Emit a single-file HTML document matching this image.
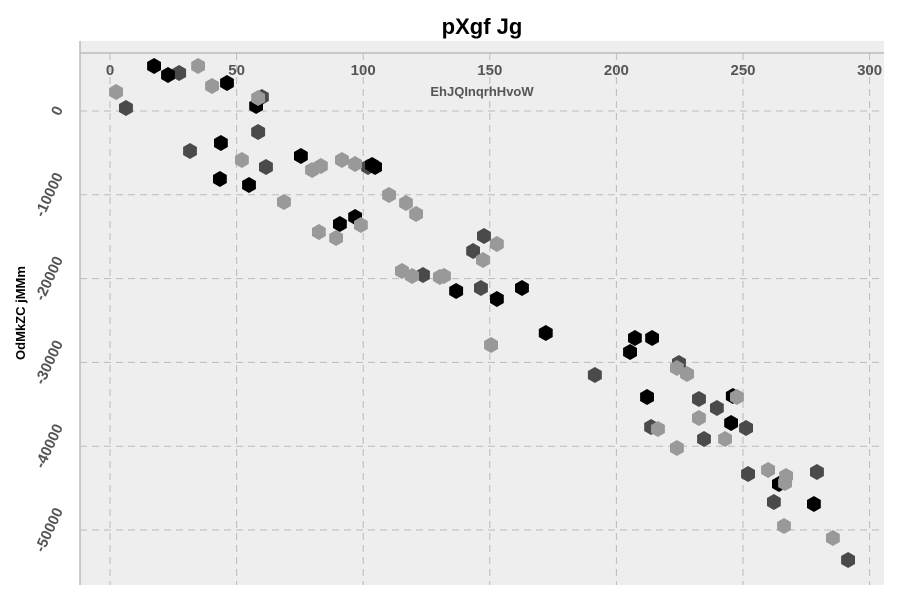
<!DOCTYPE html>
<html><head><meta charset="utf-8"><style>
body{margin:0;background:#fff;}
svg{display:block;font-family:"Liberation Sans",sans-serif;}
</style></head><body>
<svg id="chart" width="900" height="600">
<rect x="80" y="41" width="804" height="544" fill="#eeeeee"/>
<g id="grid"></g>
<line x1="80" y1="53" x2="884" y2="53" stroke="#bbbbbb" stroke-width="1.5"/>
<line x1="80" y1="41" x2="80" y2="585" stroke="#bbbbbb" stroke-width="1.5"/>
<g id="ticks"></g>
<g id="marks"></g>
<text x="482" y="34" text-anchor="middle" font-size="22" font-weight="bold" fill="#000">pXgf Jg</text>
<text x="482" y="96" text-anchor="middle" font-size="13" font-weight="bold" fill="#555">EhJQInqrhHvoW</text>
<text transform="translate(25,313) rotate(-90)" text-anchor="middle" font-size="13" font-weight="bold" fill="#000">OdMkZC jMMm</text>
</svg>
<script>
const xTicks=[0,50,100,150,200,250,300];
const yTicks=[0,-10000,-20000,-30000,-40000,-50000];
const seriesNames=["dark","black","light"];
const seriesColors=["#4a4a4a","#000000","#999999"];
const darkX=[27.3,6.3,60.0,58.5,31.6,61.6,101.9,147.7,143.4,123.6,146.5,191.5,224.7,232.6,239.7,251.2,213.7,234.6,252.0,279.2,262.2,291.5];
const darkY=[4535,358,1671,-2506,-4773,-6682,-6682,-14916,-16706,-19570,-21121,-31503,-30071,-34368,-35441,-37828,-37709,-39141,-43317,-43079,-46659,-53580];
const blackX=[17.4,22.9,46.2,57.7,43.8,43.4,54.9,75.4,103.5,104.7,90.8,96.8,136.7,152.8,162.7,172.1,207.3,214.1,205.4,212.1,246.0,245.3,264.2,278.0];
const blackY=[5370,4296,3341,597,-3819,-8114,-8830,-5370,-6444,-6682,-13484,-12649,-21479,-22434,-21121,-26491,-27088,-27088,-28759,-34129,-34010,-37232,-44511,-46898];
const lightX=[34.8,2.4,40.3,58.5,52.1,79.8,83.3,91.6,96.8,68.7,110.2,99.1,82.5,89.3,116.9,120.9,152.8,147.3,115.3,119.3,130.3,131.9,150.5,223.9,227.9,247.6,232.6,216.4,242.9,223.9,259.9,267.0,266.6,266.2,285.5];
const lightY=[5370,2267,2983,1551,-5847,-7040,-6563,-5847,-6324,-10859,-10024,-13604,-14439,-15155,-10979,-12291,-15871,-17780,-19093,-19689,-19809,-19689,-27923,-30668,-31384,-34129,-36635,-37947,-39141,-40215,-42840,-43556,-44391,-49522,-50954];

const NS="http://www.w3.org/2000/svg";
function sx(v){return 110+v*2.532;}
function sy(v){return 111-v*0.00838;}
const grid=document.getElementById('grid'),ticks=document.getElementById('ticks'),marks=document.getElementById('marks');
xTicks.forEach(t=>{
  const l=document.createElementNS(NS,'line');
  l.setAttribute('x1',sx(t));l.setAttribute('x2',sx(t));l.setAttribute('y1',53);l.setAttribute('y2',585);
  l.setAttribute('stroke','#bbbbbb');l.setAttribute('stroke-dasharray','7,5');
  
  
  grid.appendChild(l);
  const tx=document.createElementNS(NS,'text');
  tx.setAttribute('x',sx(t));tx.setAttribute('y',75);tx.setAttribute('text-anchor','middle');
  tx.setAttribute('font-size','15');tx.setAttribute('font-weight','bold');tx.setAttribute('fill','#555');
  tx.textContent=t;
  
  
  ticks.appendChild(tx);
});
const ang=65,rad=ang*Math.PI/180;
yTicks.forEach(t=>{
  const l=document.createElementNS(NS,'line');
  l.setAttribute('x1',80);l.setAttribute('x2',884);l.setAttribute('y1',sy(t));l.setAttribute('y2',sy(t));
  l.setAttribute('stroke','#bbbbbb');l.setAttribute('stroke-dasharray','7,5');
  
  
  grid.appendChild(l);
  const tx=document.createElementNS(NS,'text');
  tx.setAttribute('text-anchor','middle');
  tx.setAttribute('dominant-baseline','central');
  tx.setAttribute('font-size','15');tx.setAttribute('font-weight','bold');tx.setAttribute('fill','#555');
  tx.textContent=String(t);
  
  
  ticks.appendChild(tx);
  const w=tx.getComputedTextLength(),h=15;
  const bw=w*Math.cos(rad)+h*Math.sin(rad);
  tx.setAttribute('transform','translate('+(66-bw/2)+','+sy(t)+') rotate(-'+ang+')');
});
function hex(cx,cy,r){let p=[];for(let i=0;i<6;i++){const a=Math.PI/180*(60*i-90);p.push((cx+r*Math.cos(a)).toFixed(1)+','+(cy+r*Math.sin(a)).toFixed(1));}return p.join(' ');}
const allX=[darkX,blackX,lightX],allY=[darkY,blackY,lightY];
allX.forEach((xs,s)=>{
  xs.forEach((v,i)=>{
    const h=document.createElementNS(NS,'polygon');
    h.setAttribute('points',hex(sx(v),sy(allY[s][i]),8));
    h.setAttribute('fill',seriesColors[s]);
    
    
    marks.appendChild(h);
  });
});
</script>
</body></html>
